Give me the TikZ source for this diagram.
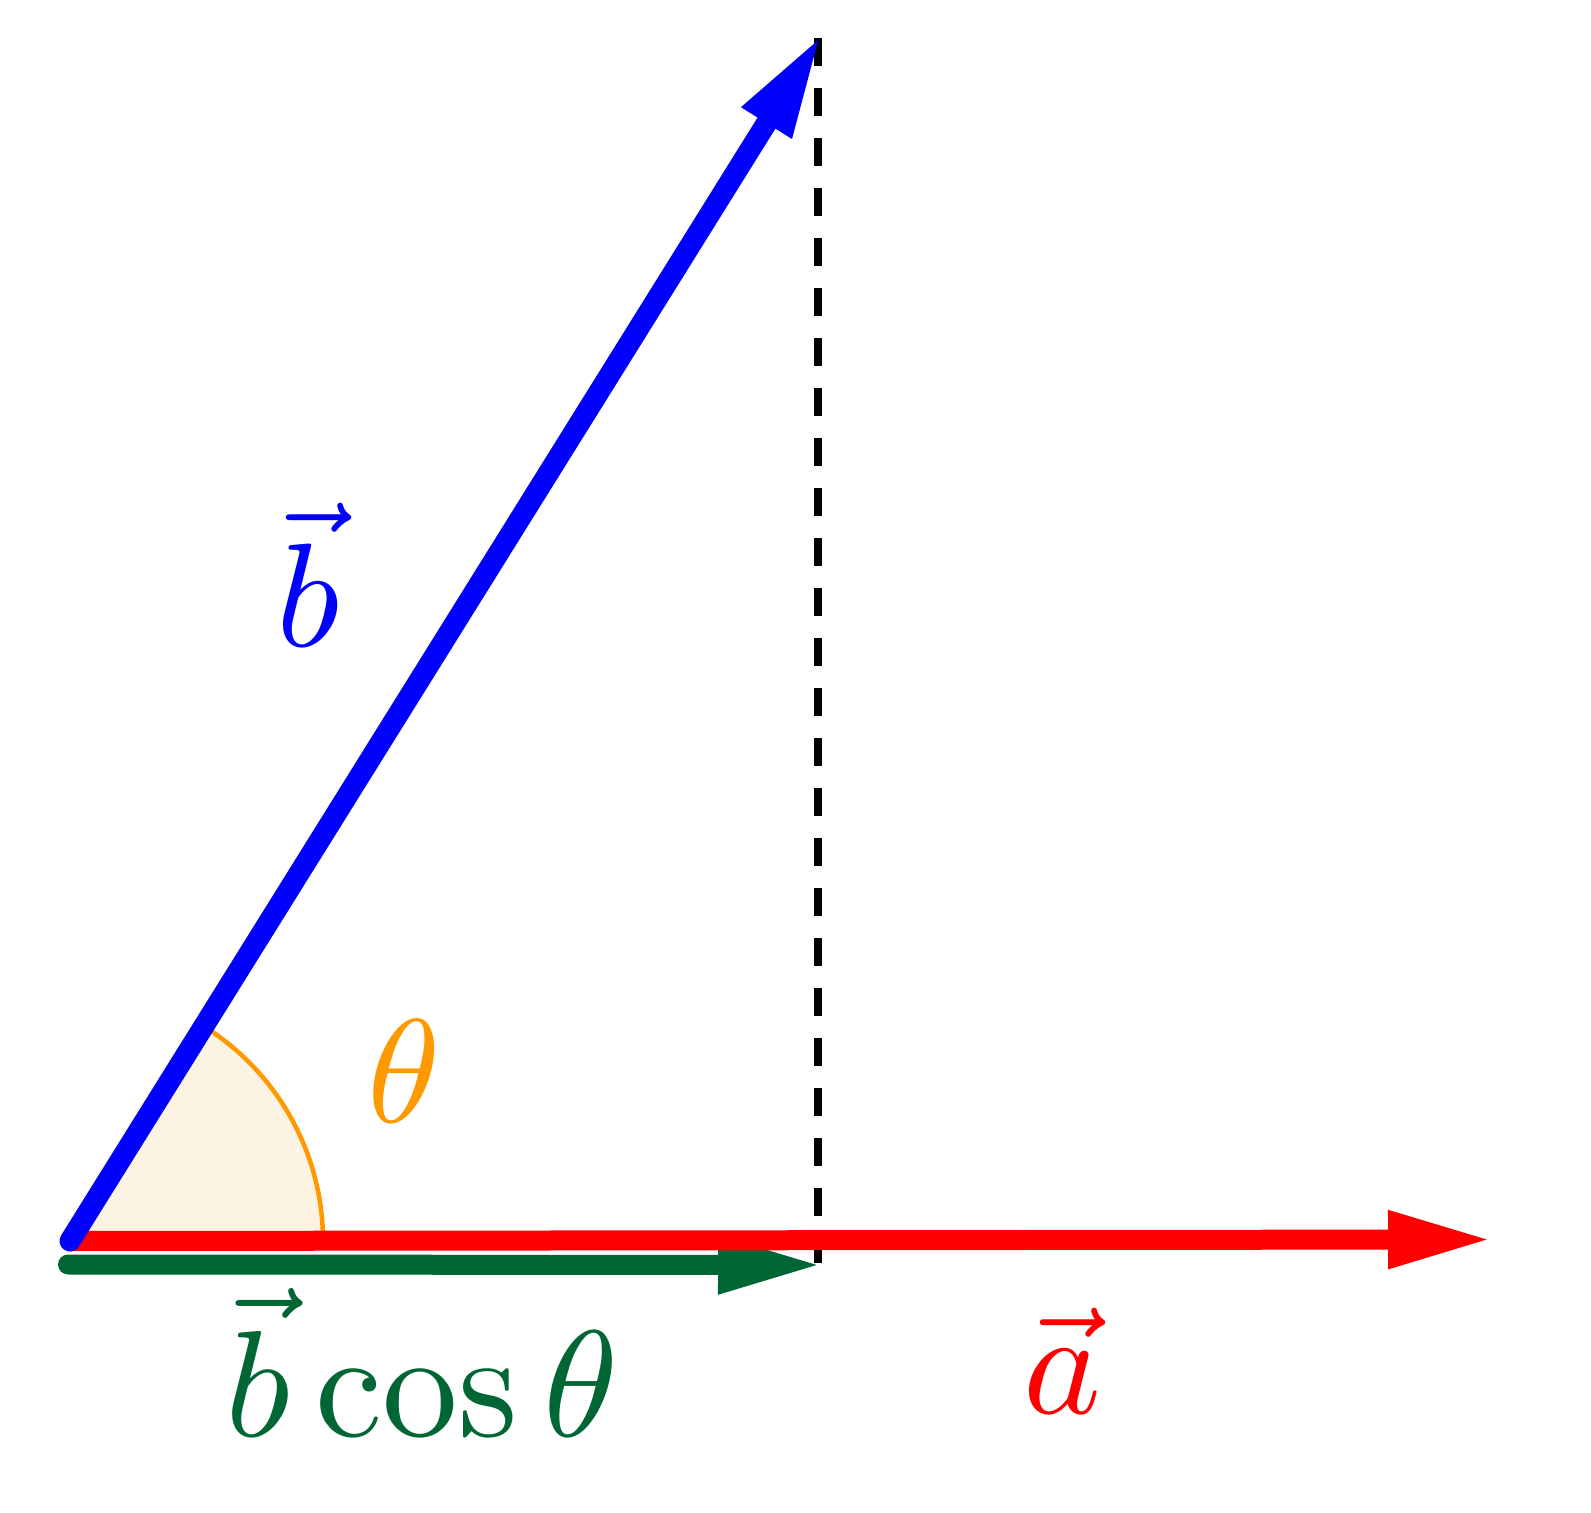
\documentclass[tikz,border=0pt]{standalone}
\usepackage{amsmath}
\usepackage{tikz}
\usetikzlibrary{arrows.meta,positioning}

\definecolor{vecblue}{RGB}{0,0,255}
\definecolor{vecred}{RGB}{255,0,0}
\definecolor{projgreen}{RGB}{0,102,51}
\definecolor{angleorange}{RGB}{255,153,0}
\definecolor{anglefill}{RGB}{253,243,227}

\tikzset{
  vecline/.style={line width=0.2cm,-{Triangle[length=1.05cm,width=0.53cm]}},
  biglabel/.style={scale=4.2,anchor=base}
}

\begin{document}
\begin{tikzpicture}
\useasboundingbox (0,0) rectangle (15.91,15.12);
% points of the picture
\coordinate (O) at (0.70,2.71);
\coordinate (A) at (14.93,2.725);
\coordinate (B) at (8.22,14.78);
\coordinate (Gs) at (0.68,2.475);
\coordinate (Ge) at (8.23,2.47);
\coordinate (Dtop) at (8.18,14.74);
\coordinate (Dbot) at (8.18,2.49);
% angle sector
\fill[anglefill] (O) -- ++(0:2.53) arc[start angle=0,end angle=58.1,radius=2.53] -- cycle;
\draw[angleorange,line width=0.045cm] (O) ++(0:2.53) arc[start angle=0,end angle=58.1,radius=2.53];
% projection
\draw[black,line width=0.08cm,dash pattern=on 0.28cm off 0.22cm] (Dtop) -- (Dbot);
\draw[projgreen,vecline,line cap=round] (Gs) -- (Ge);
% vectors
\draw[vecred,vecline] (O) -- (A);
\draw[vecblue,vecline,line width=0.21cm,line cap=round] (O) -- (B);
% labels
\node[biglabel,text=vecblue] (lb) at (3.08,8.65) {$\vec{b}$};
\node[biglabel,text=angleorange] (lt) at (4.04,3.90) {$\theta$};
\node[biglabel,scale=1.025,text=projgreen] (lp) at (4.22,0.76) {$\vec{b}\cos\theta$};
\node[biglabel,text=vecred] (la) at (10.62,0.99) {$\vec{a}$};
\end{tikzpicture}
\end{document}
